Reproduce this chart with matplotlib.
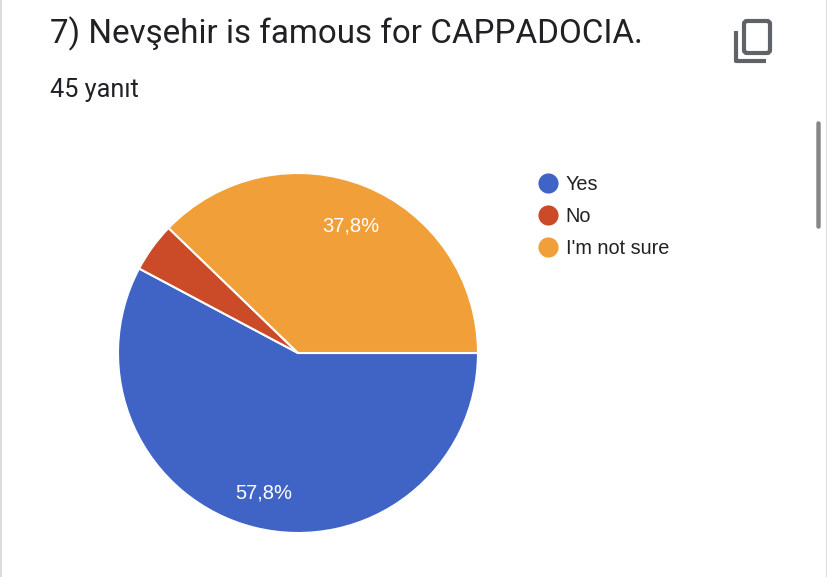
import matplotlib
matplotlib.use('Agg')
import matplotlib.pyplot as plt
from matplotlib.lines import Line2D
from matplotlib.patches import FancyBboxPatch, Rectangle

W, H = 828, 577

title = '7) Nevşehir is famous for CAPPADOCIA.'
subtitle = '45 yanıt'
labels = ['Yes', 'No', "I'm not sure"]
counts = [26, 2, 17]
colors = ['#3f64c5', '#cb4a27', '#f19f38']


def pct_text(p):
    # small slices get no label, decimal comma as in the form
    if p < 5:
        return ''
    return '{:.1f}%'.format(p).replace('.', ',')


fig = plt.figure(figsize=(W / 100, H / 100), dpi=100, facecolor='white')

# overlay in pixel coordinates for the page furniture
bg = fig.add_axes([0, 0, 1, 1])
bg.set_xlim(0, W)
bg.set_ylim(H, 0)
bg.axis('off')
bg.add_patch(Rectangle((0, 0), 2, H, fc='#dcdcdc', ec='none'))
bg.add_patch(Rectangle((826, 0), 2, H, fc='#dcdcdc', ec='none'))

# scrollbar
bg.add_patch(FancyBboxPatch((817, 122), 3, 106, boxstyle='round,pad=0,rounding_size=1.5',
                            fc='#868686', ec='#868686', lw=1))

# copy icon
bg.add_patch(FancyBboxPatch((744, 21), 26, 32, boxstyle='round,pad=0,rounding_size=3',
                            fc='none', ec='#5f6368', lw=3))
bg.plot([736, 736, 766], [31, 61, 61], color='#5f6368', lw=3,
        solid_joinstyle='round', solid_capstyle='butt')

bg.text(50, 33.5, title, fontsize=23.9, family='Roboto', color='#202124', va='center', ha='left')
bg.text(50, 90, subtitle, fontsize=18.2, family='Roboto', color='#202124', va='center', ha='left')

# pie, centre (298, 353) radius 180 px
cx, cy, r = 298, 353, 180
ax = fig.add_axes([(cx - r) / W, 1 - (cy + r) / H, 2 * r / W, 2 * r / H])
wedges, texts, autotexts = ax.pie(counts, colors=colors, startangle=0, counterclock=False,
                                  radius=1, autopct=pct_text, pctdistance=0.78,
                                  wedgeprops={'edgecolor': 'white', 'linewidth': 1.5},
                                  textprops={'color': 'white', 'fontsize': 14.5,
                                             'family': 'Liberation Sans'})
ax.set_xlim(-1, 1)
ax.set_ylim(-1, 1)
for t in autotexts:
    x, y = t.get_position()
    t.set_position((x, y - 3.5 / r))

handles = [Line2D([], [], linestyle='None', marker='o', markersize=14.5, color=c, mew=0)
           for c in colors]
leg = fig.legend(handles, labels, loc='upper left', bbox_to_anchor=(529 / W, 1 - 174.5 / H),
                 frameon=False, labelspacing=0.66, handletextpad=-0.05,
                 borderpad=0, borderaxespad=0, handlelength=1.9,
                 prop={'family': 'Liberation Sans', 'size': 14.3})
for t in leg.get_texts():
    t.set_color('#222222')

plt.savefig('out.png', dpi=100)
